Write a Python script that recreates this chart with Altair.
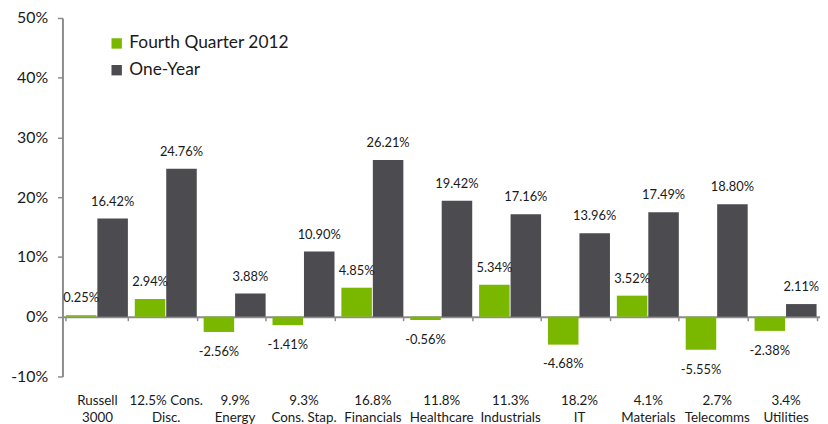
import altair as alt
import pandas as pd

categories = ["Russell|3000", "12.5% Cons.|Disc.", "9.9%|Energy", "9.3%|Cons. Stap.",
              "16.8%|Financials", "11.8%|Healthcare", "11.3%|Industrials", "18.2%|IT",
              "4.1%|Materials", "2.7%|Telecomms", "3.4%|Utilities"]
q4_2012 = [0.25, 2.94, -2.56, -1.41, 4.85, -0.56, 5.34, -4.68, 3.52, -5.55, -2.38]
one_year = [16.42, 24.76, 3.88, 10.90, 26.21, 19.42, 17.16, 13.96, 17.49, 18.80, 2.11]
series_names = ["Fourth Quarter 2012", "One-Year"]
series_colors = ["#7AB800", "#4B4B50"]
y_ticks = [-10, 0, 10, 20, 30, 40, 50]

rows = []
for i, c in enumerate(categories):
    rows.append({"sector": c, "series": series_names[0], "value": q4_2012[i]})
    rows.append({"sector": c, "series": series_names[1], "value": one_year[i]})
df = pd.DataFrame(rows)
df["label"] = df["value"].map(lambda v: f"{v:.2f}%")

FONT = "Lato"
AXIS_GRAY = "#8C8C8C"
TEXT = "#1a1a1a"

x = alt.X(
    "sector:N", sort=categories,
    scale=alt.Scale(paddingInner=0.1, paddingOuter=0.05),
    axis=alt.Axis(
        title=None, orient="bottom", offset=-60.3,
        domainColor=AXIS_GRAY, domainWidth=2,
        ticks=True, tickBand="extent", tickSize=4, tickWidth=1.5, tickColor=AXIS_GRAY,
        labelPadding=74, labelFont=FONT, labelFontSize=13.5, labelLineHeight=17,
        labelColor=TEXT, labelAngle=0, labelOverlap=False, labelBaseline="top",
        labelExpr="split(datum.label, '|')",
    ),
)
xoff = alt.XOffset("series:N", sort=series_names, scale=alt.Scale(paddingInner=0.03))
y = alt.Y(
    "value:Q",
    scale=alt.Scale(domain=[-10, 50], nice=False),
    axis=alt.Axis(
        title=None, values=y_ticks, labelExpr="datum.value + '%'", grid=False,
        domainColor=AXIS_GRAY, domainWidth=2,
        tickSize=5, tickWidth=1.5, tickColor=AXIS_GRAY,
        labelPadding=10, labelFont=FONT, labelFontSize=16, labelColor=TEXT,
    ),
)
color = alt.Color(
    "series:N", sort=series_names,
    scale=alt.Scale(domain=series_names, range=series_colors),
    legend=alt.Legend(
        title=None, orient="none", legendX=46, legendY=17,
        symbolType="square", symbolSize=110, symbolStrokeWidth=0,
        labelFont=FONT, labelFontSize=17.5, labelColor=TEXT, labelLimit=400,
        rowPadding=8, labelOffset=4,
    ),
)

base = alt.Chart(df)
bars = base.mark_bar().encode(x=x, xOffset=xoff, y=y, color=color)
pos = base.transform_filter("datum.value >= 0").mark_text(
    dy=-17, baseline="middle", fontSize=13, font=FONT, color=TEXT
).encode(x=x, xOffset=xoff, y=y, text="label:N")
neg = base.transform_filter("datum.value < 0").mark_text(
    dy=20, baseline="middle", fontSize=13, font=FONT, color=TEXT
).encode(x=x, xOffset=xoff, y=y, text="label:N")

chart = alt.layer(bars, pos, neg).properties(
    width=765, height=362,
    autosize=alt.AutoSizeParams(type="none"),
    padding={"left": 55, "top": 8, "right": 0, "bottom": 46},
).configure_view(stroke=None)

chart.save("out.html", embed_options={"renderer": "svg", "actions": False})
